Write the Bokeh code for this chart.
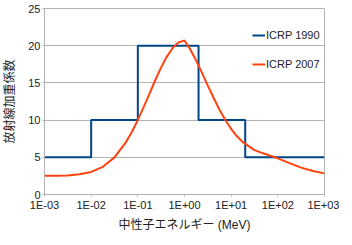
from bokeh.plotting import figure
from bokeh.models import Legend, LegendItem, FixedTicker, CustomJSTickFormatter, Range1d
from bokeh.embed import file_html
from bokeh.resources import INLINE

# ICRP 1990 step function (energy edges in MeV, weighting factor)
energy_1990 = [1e-3, 1e-2, 1e-1, 2.0, 20.0, 1e3]
wr_1990 = [5, 10, 20, 10, 5, 5]

# ICRP 2007 continuous curve
energy_2007 = [1.0e-3, 1.78e-3, 3.16e-3, 5.62e-3, 1.0e-2, 1.78e-2, 3.16e-2, 5.62e-2,
               7.50e-2, 1.0e-1, 1.33e-1, 1.78e-1, 2.37e-1, 3.16e-1, 4.22e-1, 5.62e-1,
               7.50e-1, 1.0, 1.33, 1.78, 2.37, 3.16, 4.22, 5.62, 7.50, 10.0, 13.3,
               17.8, 31.6, 50.0, 56.2, 100.0, 178.0, 316.0, 562.0, 1000.0]
wr_2007 = [2.51, 2.52, 2.57, 2.71, 3.03, 3.72, 4.99, 7.08,
           8.45, 10.02, 11.75, 13.57, 15.39, 17.09, 18.57, 19.72,
           20.45, 20.70, 19.48, 18.00, 16.35, 14.64, 12.97, 11.40, 10.01, 8.81, 7.82,
           7.03, 5.97, 5.50, 5.41, 4.86, 4.21, 3.61, 3.15, 2.84]

x_ticks = [1e-3, 1e-2, 1e-1, 1e0, 1e1, 1e2, 1e3]
x_tick_labels = ["1E-03", "1E-02", "1E-01", "1E+00", "1E+01", "1E+02", "1E+03"]
y_ticks = [0, 5, 10, 15, 20, 25]

series_names = ["ICRP 1990", "ICRP 2007"]
series_colors = ["#004586", "#ff420e"]

x_title = "中性子エネルギー (MeV)"
y_title = "放射線加重係数"

p = figure(frame_width=280, frame_height=186, x_axis_type="log", output_backend="svg",
           toolbar_location=None,
           x_range=Range1d(1e-3, 1e3), y_range=Range1d(0, 25),
           min_border_left=41, min_border_right=15, min_border_top=8, min_border_bottom=35)

r1 = p.step(energy_1990, wr_1990, mode="after", line_color=series_colors[0], line_width=2)
r2 = p.line(energy_2007, wr_2007, line_color=series_colors[1], line_width=2)

p.xaxis.ticker = FixedTicker(ticks=x_ticks)
p.xaxis.formatter = CustomJSTickFormatter(args=dict(tvals=x_ticks, tlabs=x_tick_labels), code="""
let best = 0, bd = 1e9;
for (let i = 0; i < tvals.length; i++) {
  const d = Math.abs(Math.log10(tvals[i]) - Math.log10(tick));
  if (d < bd) { bd = d; best = i; }
}
return tlabs[best];
""")
p.yaxis.ticker = FixedTicker(ticks=y_ticks)

for ax in (p.xaxis[0], p.yaxis[0]):
    ax.axis_line_color = "#b3b3b3"
    ax.major_tick_line_color = "#b3b3b3"
    ax.major_tick_out = 2
    ax.major_tick_in = 0
    ax.minor_tick_line_color = None
    ax.major_label_text_font = "Liberation Sans"
    ax.major_label_text_font_size = "11px"
    ax.major_label_text_color = "#222222"
    ax.axis_label_text_font = "Liberation Sans, Noto Sans CJK JP"
    ax.axis_label_text_font_size = "12px"
    ax.axis_label_text_font_style = "normal"
    ax.axis_label_text_color = "#222222"
    ax.major_label_standoff = 2

p.xaxis.axis_label = x_title
p.yaxis.axis_label = y_title
p.xaxis.axis_label_standoff = 4
p.yaxis.axis_label_standoff = 8

p.xgrid.visible = False
p.ygrid.grid_line_color = "#b3b3b3"
p.outline_line_color = "#b3b3b3"
p.background_fill_color = "white"
p.border_fill_color = "white"

legend = Legend(items=[LegendItem(label=series_names[0], renderers=[r1]),
                       LegendItem(label=series_names[1], renderers=[r2])],
                location=(208, 124), orientation="vertical",
                glyph_width=13, glyph_height=12, label_height=12, label_standoff=1,
                spacing=17, padding=0, margin=0,
                border_line_color=None, background_fill_alpha=0,
                label_text_font="Liberation Sans", label_text_font_size="11px",
                label_text_color="#222222")
p.add_layout(legend)

open("out.html", "w").write(file_html(p, INLINE))
